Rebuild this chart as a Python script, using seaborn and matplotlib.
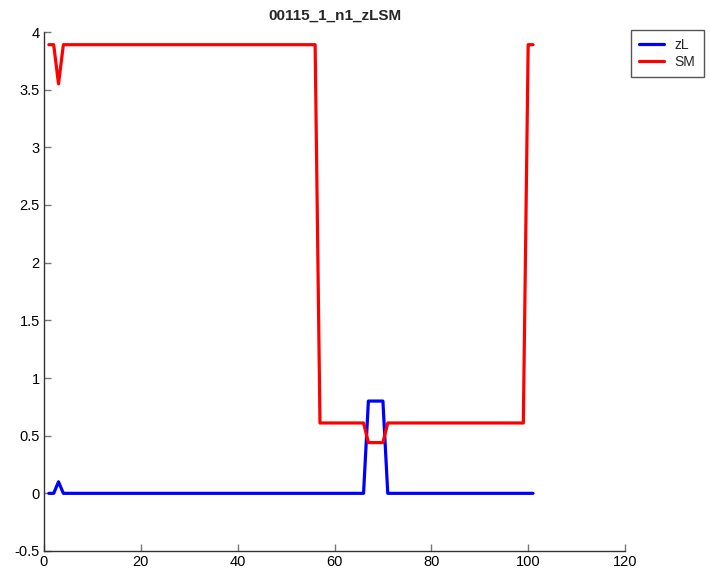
import pandas as pd
import matplotlib
matplotlib.use("Agg")
import matplotlib.pyplot as plt
import seaborn as sns

title = "00115_1_n1_zLSM"

# breakpoints (straight lines between them)
zl_x = [1, 2, 3, 4, 66, 67, 70, 71, 101]
zl_y = [0.0, 0.0, 0.1, 0.0, 0.0, 0.8, 0.8, 0.0, 0.0]

sm_x = [1, 2, 3, 4, 56, 57, 66, 67, 70, 71, 99, 100, 101]
sm_y = [3.89, 3.89, 3.55, 3.89, 3.89, 0.61, 0.61, 0.44, 0.44, 0.61, 0.61, 3.89, 3.89]

x_ticks = [0, 20, 40, 60, 80, 100, 120]
y_ticks = [-0.5, 0, 0.5, 1, 1.5, 2, 2.5, 3, 3.5, 4]
y_labels = ["-0.5", "0", "0.5", "1", "1.5", "2", "2.5", "3", "3.5", "4"]

df = pd.concat([
    pd.DataFrame({"x": zl_x, "y": zl_y, "series": "zL"}),
    pd.DataFrame({"x": sm_x, "y": sm_y, "series": "SM"}),
], ignore_index=True)

sns.set_style("ticks")
plt.rcParams["font.family"] = ["Liberation Sans", "DejaVu Sans"]
plt.rcParams["xtick.direction"] = "in"
plt.rcParams["ytick.direction"] = "in"

fig = plt.figure(figsize=(7.1, 5.76), dpi=100)
ax = fig.add_axes([44 / 710, 1 - 551 / 576, 581 / 710, 519 / 576])

sns.lineplot(data=df, x="x", y="y", hue="series", hue_order=["zL", "SM"],
             palette={"zL": "#0000ff", "SM": "#ff0000"}, linewidth=2.3,
             sort=False, estimator=None, ax=ax)

ax.set_xlim(0, 120)
ax.set_ylim(-0.5, 4)
ax.set_xticks(x_ticks)
ax.set_yticks(y_ticks)
ax.set_yticklabels(y_labels)
ax.set_xlabel("")
ax.set_ylabel("")
ax.set_title(title, fontsize=11, fontweight="bold", pad=9)

for side in ["top", "right"]:
    ax.spines[side].set_visible(False)
for side in ["left", "bottom"]:
    ax.spines[side].set_color("#333333")
    ax.spines[side].set_linewidth(1.0)
ax.tick_params(axis="both", labelsize=10.5, length=5, width=1.0,
               color="#777777", labelcolor="black", pad=3)

leg = ax.legend(loc="upper left", bbox_to_anchor=(631 / 710, 1 - 30 / 576),
                bbox_transform=fig.transFigure, fontsize=10, frameon=True,
                fancybox=False, framealpha=1, edgecolor="#555555",
                handlelength=1.8, borderpad=0.6, labelspacing=0.2,
                handletextpad=0.75, borderaxespad=0)
leg.get_frame().set_linewidth(1.0)

fig.savefig("out.png", dpi=100)
